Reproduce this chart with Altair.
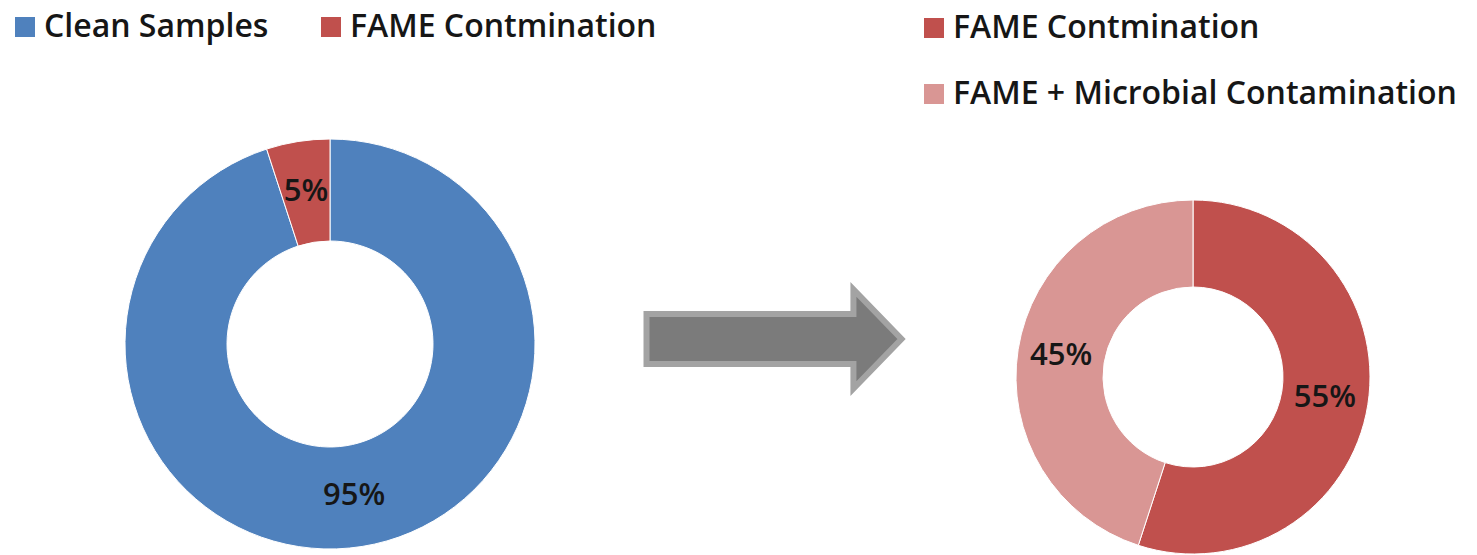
import altair as alt
import pandas as pd

# Before: share of samples by status
before_categories = ["Clean Samples", "FAME Contmination"]
before_shares = [95, 5]
before_colors = ["#4F81BD", "#C0504D"]

# After: breakdown of the contaminated samples
after_categories = ["FAME Contmination", "FAME + Microbial Contamination"]
after_shares = [55, 45]
after_colors = ["#C0504D", "#D99694"]

FONT = "Open Sans"
TEXT_COLOR = "#161616"


def frame(categories, shares):
    return pd.DataFrame({
        "category": categories,
        "share": shares,
        "rank": list(range(len(categories))),
        "label": [f"{s}%" for s in shares],
    })


before_df = frame(before_categories, before_shares)
after_df = frame(after_categories, after_shares)


def donut(df, colors, cx, cy, r_out, r_in, legend):
    base = alt.Chart(df).encode(
        theta=alt.Theta("share:Q", stack=True, scale=alt.Scale(domain=[0, 100])),
        order=alt.Order("rank:O"),
        x=alt.value(cx),
        y=alt.value(cy),
    )
    arcs = base.mark_arc(
        outerRadius=r_out, innerRadius=r_in, stroke="white", strokeWidth=1
    ).encode(
        color=alt.Color(
            "category:N",
            scale=alt.Scale(domain=list(df["category"]), range=colors),
            sort=list(df["category"]),
            legend=legend,
        )
    )
    labels = base.mark_text(
        radius=(r_out + r_in) / 2, font=FONT, fontSize=31, fontWeight=600,
        color=TEXT_COLOR,
    ).encode(text="label:N", detail="category:N")
    return arcs, labels


legend_common = dict(
    title=None,
    orient="none",
    symbolType="square",
    symbolSize=400,
    symbolStrokeWidth=0,
    labelFont=FONT,
    labelFontSize=32,
    labelFontWeight=600,
    labelColor=TEXT_COLOR,
    labelLimit=800,
    labelOffset=3,
    padding=0,
)

before_legend = alt.Legend(
    direction="horizontal", legendX=9, legendY=11, columnPadding=46, **legend_common
)
after_legend = alt.Legend(
    direction="vertical", legendX=918, legendY=12, rowPadding=34, **legend_common
)

before_arcs, before_labels = donut(before_df, before_colors, 330, 344, 205, 103, before_legend)
after_arcs, after_labels = donut(after_df, after_colors, 1193, 377, 177, 90, after_legend)

# Block arrow between the two donuts
arrow_path = (
    "M-1,-0.196 L0.623,-0.196 L0.623,-0.389 L1,0 "
    "L0.623,0.389 L0.623,0.196 L-1,0.196 Z"
)
arrow = alt.Chart(pd.DataFrame({"step": ["before -> after"]})).mark_point(
    shape=arrow_path,
    size=255 ** 2,
    filled=True,
    fill="#7b7b7b",
    stroke="#a3a3a3",
    strokeWidth=6,
    opacity=1,
).encode(x=alt.value(774), y=alt.value(339), detail="step:N")

chart = (
    alt.layer(before_arcs, before_labels, after_arcs, after_labels, arrow)
    .resolve_scale(color="independent", theta="independent")
    .properties(
        width=1477,
        height=555,
        padding=0,
        autosize=alt.AutoSizeParams(type="none"),
        background="white",
    )
    .configure_view(stroke=None)
)

chart.save("out.html", embed_options={"renderer": "svg", "actions": False})
